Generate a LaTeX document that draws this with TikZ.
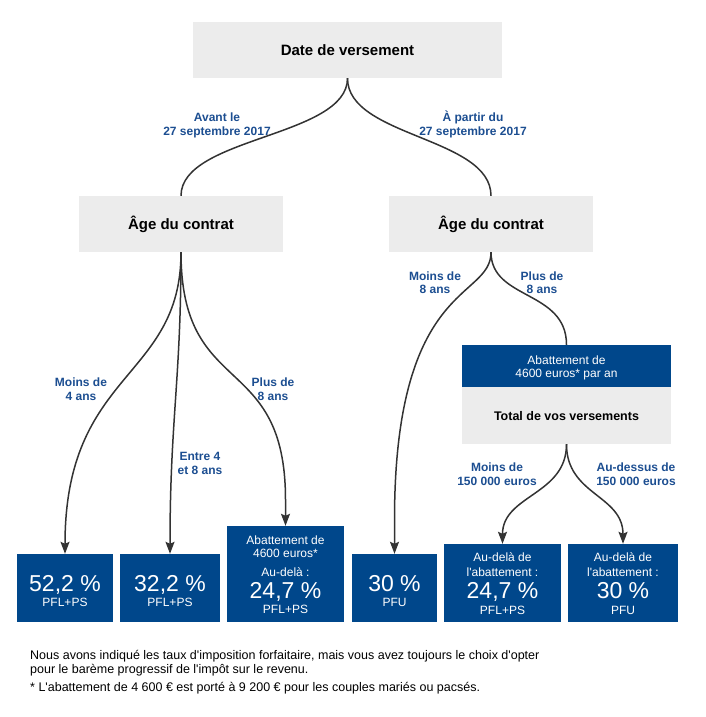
\documentclass[tikz,border=0pt]{standalone}
\usepackage{fontspec}
\setmainfont{Liberation Sans}[Ligatures=TeXOff]
\usetikzlibrary{calc,arrows.meta}
\definecolor{boxblue}{RGB}{0,71,139}
\definecolor{labblue}{RGB}{28,78,145}
\definecolor{boxgrey}{RGB}{236,236,236}
\definecolor{linegrey}{RGB}{51,51,51}
\tikzset{
  gbox/.style={fill=boxgrey, draw=none, inner sep=0pt, text height=10.8pt, text depth=0pt},
  bbox/.style={fill=boxblue, draw=none, inner sep=0pt},
  ttl/.style={font=\bfseries\fontsize{15}{18}\selectfont},
  ttlsm/.style={font=\bfseries\fontsize{12.5}{15}\selectfont, text height=9pt},
  lab/.style={text=labblue, font=\bfseries\fontsize{12}{14}\selectfont, inner sep=0pt, text height=8.6pt, text depth=0pt},
  wsm/.style={text=white, font=\fontsize{12}{14}\selectfont, inner sep=0pt, text height=8.6pt, text depth=0pt},
  wbig/.style={text=white, font=\fontsize{23}{26}\selectfont, inner sep=0pt, text height=16.5pt, text depth=0pt},
  note/.style={text=black, font=\fontsize{12.5}{15}\selectfont, inner sep=0pt, text height=9pt, text depth=0pt, anchor=west},
  conn/.style={draw=linegrey, line width=1.5pt},
  arr/.style={conn, -{Stealth[length=12pt,width=9pt,inset=2pt]}}
}
\begin{document}
\begin{tikzpicture}[x=1pt,y=-1pt]
\useasboundingbox (0,0) rectangle (706,717);
% boxes
\node[gbox, ttl, minimum width=309pt, minimum height=56pt] (top) at (347.5,50) {Date de versement};
\node[gbox, ttl, minimum width=204pt, minimum height=56pt] (ageL) at (181,224) {Âge du contrat};
\node[gbox, ttl, minimum width=204pt, minimum height=56pt] (ageR) at (491,224) {Âge du contrat};
\node[bbox, minimum width=209pt, minimum height=42pt] (abatt) at (566.5,366) {};
\node[gbox, ttlsm, minimum width=209pt, minimum height=57pt] (total) at (566.5,415.5) {Total de vos versements};
\node[bbox, minimum width=96pt, minimum height=68pt] (b1) at (65,588) {};
\node[bbox, minimum width=100pt, minimum height=68pt] (b2) at (170,588) {};
\node[bbox, minimum width=117pt, minimum height=96pt] (b3) at (285.5,574) {};
\node[bbox, minimum width=85pt, minimum height=68pt] (b4) at (394.5,588) {};
\node[bbox, minimum width=117pt, minimum height=78pt] (b5) at (502.5,583) {};
\node[bbox, minimum width=110pt, minimum height=78pt] (b6) at (623,583) {};
% texts in blue boxes
\node[wsm] (a1) at (566.5,360) {Abattement de};
\node[wsm] (a2) at (566.5,373) {4600 euros* par an};
\node[wbig] (b1t) at (65,583) {52,2 \%};
\node[wsm] (b1s) at (65,602) {PFL+PS};
\node[wbig] (b2t) at (170,583) {32,2 \%};
\node[wsm] (b2s) at (170,602) {PFL+PS};
\node[wsm] (b3a) at (285.5,540) {Abattement de};
\node[wsm] (b3b) at (285.5,553) {4600 euros*};
\node[wsm] (b3c) at (285.5,572) {Au-delà :};
\node[wbig] (b3t) at (285.5,590) {24,7 \%};
\node[wsm] (b3s) at (285.5,609) {PFL+PS};
\node[wbig] (b4t) at (394.5,583) {30 \%};
\node[wsm] (b4s) at (394.5,602) {PFU};
\node[wsm] (b5a) at (502.5,557) {Au-delà de};
\node[wsm] (b5b) at (502.5,572) {l'abattement :};
\node[wbig] (b5t) at (502.5,590) {24,7 \%};
\node[wsm] (b5s) at (502.5,610) {PFL+PS};
\node[wsm] (b6a) at (623,557) {Au-delà de};
\node[wsm] (b6b) at (623,572) {l'abattement :};
\node[wbig] (b6t) at (623,590) {30 \%};
\node[wsm] (b6s) at (623,610) {PFU};
% labels
\node[lab] (l1a) at (217,117) {Avant le};
\node[lab] (l1b) at (217,131) {27 septembre 2017};
\node[lab] (l2a) at (473,117) {À partir du};
\node[lab] (l2b) at (473,131) {27 septembre 2017};
\node[lab] (l3a) at (81,382) {Moins de};
\node[lab] (l3b) at (81,396) {4 ans};
\node[lab] (l4a) at (200,456) {Entre 4};
\node[lab] (l4b) at (200,470) {et 8 ans};
\node[lab] (l5a) at (273,382) {Plus de};
\node[lab] (l5b) at (273,396) {8 ans};
\node[lab] (l6a) at (435,276) {Moins de};
\node[lab] (l6b) at (435,289) {8 ans};
\node[lab] (l7a) at (542,276) {Plus de};
\node[lab] (l7b) at (542,289) {8 ans};
\node[lab] (l8a) at (497,467) {Moins de};
\node[lab] (l8b) at (497,481) {150 000 euros};
\node[lab] (l9a) at (636,467) {Au-dessus de};
\node[lab] (l9b) at (636,481) {150 000 euros};
% connectors
\draw[conn] (top.south) .. controls ($(top.south)+(0,59)$) and ($(ageL.north)+(0,-59)$) .. (ageL.north);
\draw[conn] (top.south) .. controls ($(top.south)+(0,59)$) and ($(ageR.north)+(0,-59)$) .. (ageR.north);
\draw[arr] (ageL.south) .. controls ($(ageL.south)+(0,128)$) and ($(b1.north)+(0,-184)$) .. (b1.north);
\draw[arr] (ageL.south) .. controls ($(ageL.south)+(0,128)$) and ($(b2.north)+(0,-134)$) .. (b2.north);
\draw[arr] (ageL.south) .. controls ($(ageL.south)+(0,148)$) and ($(b3.north)+(0,-176)$) .. ($(b3.north)+(0,-26)$) -- (b3.north);
\draw[arr] (ageR.south) .. controls ($(ageR.south)+(0,48)$) and ($(b4.north)+(0,-274)$) .. ($(b4.north)+(0,-34)$) -- (b4.north);
\draw[conn] (ageR.south) .. controls ($(ageR.south)+(0,48)$) and ($(abatt.north)+(0,-55)$) .. (abatt.north);
\draw[arr] (total.south) .. controls ($(total.south)+(0,51)$) and ($(b5.north)+(0,-49)$) .. (b5.north);
\draw[arr] (total.south) .. controls ($(total.south)+(0,51)$) and ($(b6.north)+(0,-49)$) .. (b6.north);
% notes
\node[note] (n1) at (30,655) {Nous avons indiqué les taux d'imposition forfaitaire, mais vous avez toujours le choix d'opter};
\node[note] (n2) at (30,669) {pour le barème progressif de l'impôt sur le revenu.};
\node[note] (n3) at (30,687) {* L'abattement de 4 600 € est porté à 9 200 € pour les couples mariés ou pacsés.};
\end{tikzpicture}
\end{document}
